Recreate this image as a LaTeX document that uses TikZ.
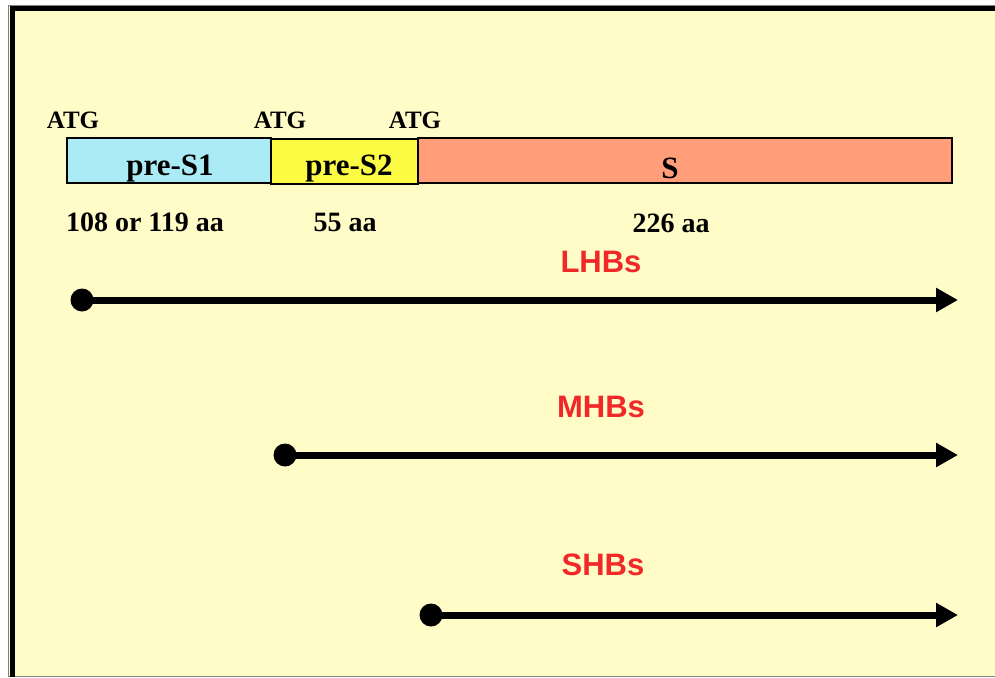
\documentclass[tikz,border=0pt]{standalone}
\usepackage{fontspec}
\setmainfont{Liberation Serif}
\newfontfamily\labelsans{Liberation Sans}
\usetikzlibrary{arrows.meta}
\definecolor{panelbg}{HTML}{FFFCC8}
\definecolor{preSone}{HTML}{ABEBF5}
\definecolor{preStwo}{HTML}{FCFC44}
\definecolor{Sdomain}{HTML}{FF9E78}
\definecolor{formred}{HTML}{F02828}
\begin{document}
\begin{tikzpicture}[x=1pt,y=-1pt,
  genebox/.style={draw=black,line width=2pt,minimum height=45pt,inner sep=0pt,anchor=north west},
  atglabel/.style={font=\bfseries\fontsize{25}{28}\selectfont,anchor=base},
  boxlabel/.style={font=\bfseries\fontsize{31}{34}\selectfont,anchor=base},
  lenlabel/.style={font=\bfseries\fontsize{28}{32}\selectfont,anchor=base},
  formlabel/.style={font=\labelsans\bfseries\fontsize{31}{34}\selectfont,text=formred,anchor=base},
  startdot/.style={circle,fill=black,inner sep=0pt,minimum size=23pt},
  spanarrow/.style={line width=7pt,-{Triangle[length=22pt,width=23pt]}}]
\useasboundingbox (0,0) rectangle (995,677);
\fill[white] (0,0) rectangle (995,677);
% panel
\fill[panelbg] (9,5) rectangle (995,677);
\draw[gray,line width=1pt] (995,5.5) -- (8.5,5.5) -- (8.5,676.5) -- (995,676.5);
\draw[black,line width=5pt] (12.5,677) -- (12.5,8.5) -- (995,8.5);
% gene domains
\node[genebox,fill=preSone,minimum width=204pt] (s1) at (66,137) {};
\node[genebox,fill=preStwo,minimum width=147pt] (s2) at (270,138) {};
\node[genebox,fill=Sdomain,minimum width=534pt] (s) at (417,137) {};
\node[boxlabel] (ls1) at (170,175) {pre-S1};
\node[boxlabel] (ls2) at (349,175) {pre-S2};
\node[boxlabel] (ls) at (670,178) {S};
% start codons
\node[atglabel] (a1) at (73,128) {ATG};
\node[atglabel] (a2) at (280,128) {ATG};
\node[atglabel] (a3) at (415,128) {ATG};
% domain lengths
\node[lenlabel] (n1) at (145,231) {108 or 119 aa};
\node[lenlabel] (n2) at (345,231) {55 aa};
\node[lenlabel] (n3) at (671,232) {226 aa};
% envelope protein forms
\node[formlabel] (L) at (601,272) {LHBs};
\node[formlabel] (M) at (601,417) {MHBs};
\node[formlabel] (Sm) at (603,575) {SHBs};
\node[startdot] (dL) at (82,300) {};
\node[startdot] (dM) at (285,455) {};
\node[startdot] (dS) at (431,615) {};
\coordinate (eL) at (958,300);
\coordinate (eM) at (958,455);
\coordinate (eS) at (958,615);
\draw[spanarrow] (dL.center) -- (eL);
\draw[spanarrow] (dM.center) -- (eM);
\draw[spanarrow] (dS.center) -- (eS);
\end{tikzpicture}
\end{document}
